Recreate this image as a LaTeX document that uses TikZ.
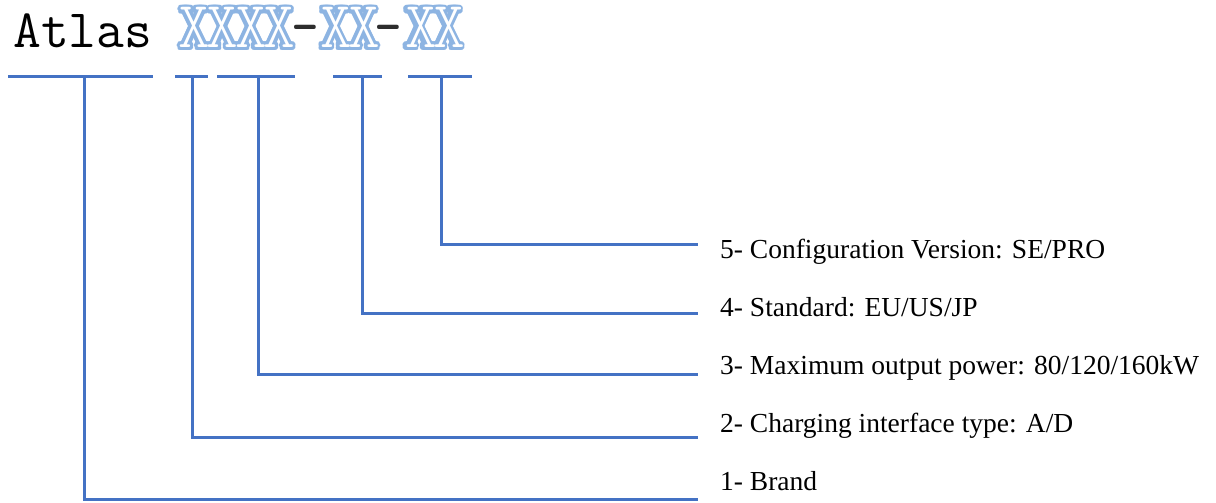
\documentclass[tikz,border=0pt]{standalone}
\usepackage{fontspec}
\setmainfont{Liberation Serif}
\newfontfamily\lmlight{Latin Modern Mono Light}
\definecolor{lineblue}{RGB}{68,114,196}
\definecolor{xblue}{RGB}{141,180,226}
\definecolor{dashgray}{RGB}{45,45,45}
\newcommand\xone{\makebox[0.525em]{\scalebox{1.12}[1]{X}}}
\newcommand\xsr{\xone\xone\xone\xone\phantom{-}\xone\xone\phantom{-}\xone\xone}
\newcommand\xoff[2]{\rlap{\hspace{#1}\raisebox{#2}{\xsr}}}
\newcommand\hollowtext{\scalebox{1}[1.22]{%
  \textcolor{xblue}{\xoff{2.8pt}{0pt}\xoff{-2.8pt}{0pt}\xoff{0pt}{2.4pt}\xoff{0pt}{-2.4pt}%
    \xoff{2pt}{1.7pt}\xoff{-2pt}{1.7pt}\xoff{2pt}{-1.7pt}\xoff{-2pt}{-1.7pt}%
    \xoff{2.6pt}{1pt}\xoff{-2.6pt}{1pt}\xoff{2.6pt}{-1pt}\xoff{-2.6pt}{-1pt}%
    \xoff{1.4pt}{0pt}\xoff{-1.4pt}{0pt}\xoff{0pt}{1.2pt}\xoff{0pt}{-1.2pt}}%
  \rlap{\textcolor{white}{\lmlight\xsr}}%
  \textcolor{dashgray}{\phantom{XXXX}-\phantom{XX}-\phantom{XX}}}}
\begin{document}
\begin{tikzpicture}[x=1pt,y=-1pt,
  conn/.style={draw=lineblue,line width=3pt,line join=miter},
  lab/.style={anchor=base west,inner sep=0pt,font=\fontsize{27.5}{30}\selectfont},
  titletext/.style={anchor=base west,inner sep=0pt,font=\ttfamily\fontsize{54}{54}\selectfont}]
\useasboundingbox (0,0) rectangle (1216,503);
\node[titletext] (title) at (13,48) {Atlas \hollowtext};
% underline segments
\coordinate (u1a) at (8,77);   \coordinate (u1b) at (153,77); \coordinate (t1) at (84,77);
\coordinate (u2a) at (175,77); \coordinate (u2b) at (208,77); \coordinate (t2) at (192,77);
\coordinate (u3a) at (217,77); \coordinate (u3b) at (295,77); \coordinate (t3) at (258,77);
\coordinate (u4a) at (333,77); \coordinate (u4b) at (382,77); \coordinate (t4) at (362,77);
\coordinate (u5a) at (408,77); \coordinate (u5b) at (472,77); \coordinate (t5) at (441,77);
\foreach \i in {1,...,5} \draw[conn] (u\i a) -- (u\i b);
% line ends
\coordinate (e5) at (698,244);
\coordinate (e4) at (698,313);
\coordinate (e3) at (698,374);
\coordinate (e2) at (698,437);
\coordinate (e1) at (698,499);
% labels
\node[lab] (l5) at (720,258) {5- Configuration Version: SE/PRO};
\node[lab] (l4) at (720,316) {4- Standard: EU/US/JP};
\node[lab] (l3) at (720,374) {3- Maximum output power: 80/120/160kW};
\node[lab] (l2) at (720,432) {2- Charging interface type: A/D};
\node[lab] (l1) at (720,490) {1- Brand};
\foreach \i in {1,...,5} \draw[conn] (t\i) |- (e\i);
\end{tikzpicture}
\end{document}
